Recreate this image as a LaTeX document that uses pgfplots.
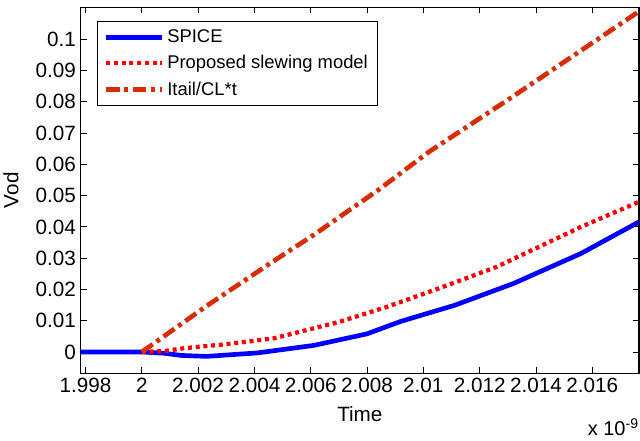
\documentclass[border=0pt]{standalone}
\usepackage{fontspec}
\setmainfont{Liberation Sans}
\usepackage{pgfplots}
\pgfplotsset{compat=1.18}
\usetikzlibrary{calc}
\definecolor{spiceblue}{RGB}{0,0,255}
\definecolor{modelred}{RGB}{255,0,0}
\definecolor{tailred}{RGB}{215,45,5}
\begin{document}
\begin{tikzpicture}
\begin{axis}[
  scale only axis,
  width=418.5pt, height=274.3pt,
  xmin=1.99783, xmax=2.01766,
  ymin=-0.0068, ymax=0.1102,
  xtick={1.998,2,2.002,2.004,2.006,2.008,2.01,2.012,2.014,2.016},
  ytick={0,0.01,0.02,0.03,0.04,0.05,0.06,0.07,0.08,0.09,0.1},
  scaled x ticks=false, scaled y ticks=false,
  xticklabel style={/pgf/number format/fixed,/pgf/number format/precision=3},
  yticklabel style={/pgf/number format/fixed,/pgf/number format/precision=2},
  /pgf/number format/assume math mode=true,
  tick label style={font=\fontsize{15.5}{17}\selectfont},
  label style={font=\fontsize{15.5}{17}\selectfont},
  tick align=inside,
  major tick length=4.5pt,
  axis line style={black, line width=0.8pt},
  every tick/.style={black, line width=0.6pt},
  xlabel={Time}, ylabel={Vod},
  xlabel style={at={(axis description cs:0.5,-0.112)}, anchor=center},
  ylabel style={at={(axis description cs:-0.125,0.5)}, anchor=center, rotate=0},
  legend style={at={(axis description cs:0.0287,0.962)}, anchor=north west,
    draw=black, line width=0.8pt, font=\fontsize{13.8}{15}\selectfont,
    row sep=4.2pt, inner xsep=5pt, inner ysep=4pt},
  legend cell align=left,
  legend image code/.code={\draw[#1] (0pt,0pt) -- (42pt,0pt);},
]
\addplot[spiceblue, line width=3.5pt] coordinates {
 (1.99783,0) (2.0,0) (2.0008,-0.0004) (2.0014,-0.0011) (2.0023,-0.0014)
 (2.0041,-0.0003) (2.0061,0.0021) (2.0080,0.0058) (2.0092,0.0098)
 (2.0111,0.0149) (2.0132,0.0219) (2.0156,0.0315) (2.01766,0.0416)};
\addlegendentry{SPICE}
\addplot[modelred, line width=3.2pt, dash pattern=on 3pt off 2.8pt] coordinates {
 (2.0,0) (2.0008,0.0003) (2.0015,0.0012) (2.0030,0.0025) (2.0047,0.0044)
 (2.0070,0.0096) (2.0087,0.0144) (2.0106,0.0205) (2.0126,0.0272)
 (2.0156,0.0400) (2.01766,0.0480)};
\addlegendentry{Proposed slewing model}
\addplot[tailred, line width=3.5pt, dash pattern=on 10pt off 3.5pt on 3pt off 3.5pt] coordinates {
 (2.0,0) (2.0023,0.0147) (2.0045,0.0280) (2.0061,0.0374) (2.0084,0.0518)
 (2.0102,0.0640) (2.0130,0.0806) (2.01766,0.1089)};
\addlegendentry{Itail/CL*t}
\end{axis}
\node[anchor=base east, font=\fontsize{15}{17}\selectfont, inner sep=0pt]
  at ($(current axis.south east)+(0,-46.5pt)$) {x 10\textsuperscript{-9}};
\pgfresetboundingbox
\path ($(current axis.south west)+(-60.5pt,-50.25pt)$) rectangle ($(current axis.north east)+(0.75pt,5.5pt)$);
\end{tikzpicture}
\end{document}
